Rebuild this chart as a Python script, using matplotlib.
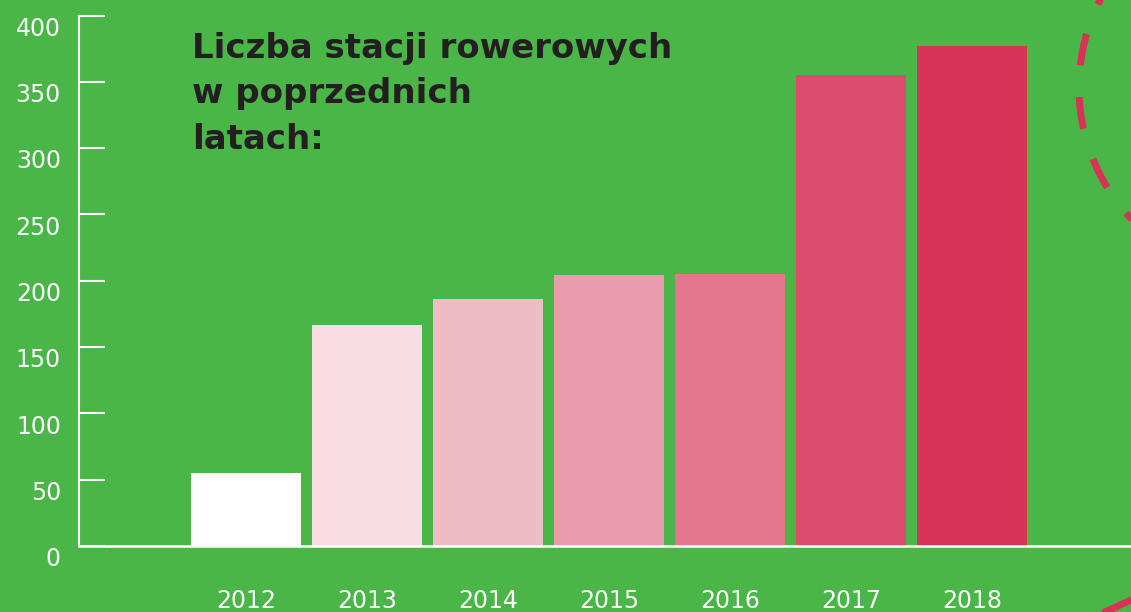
import numpy as np
import matplotlib
matplotlib.use("Agg")
import matplotlib.pyplot as plt
from matplotlib.transforms import ScaledTranslation
from matplotlib.lines import Line2D

# ---- data ----
years = ["2012", "2013", "2014", "2015", "2016", "2017", "2018"]
stations = [55, 167, 186, 204, 205, 355, 377]
bar_colors = ["#ffffff", "#f8dde2", "#efbbc5", "#e99cae", "#e3778e", "#db4b6b", "#d63356"]
yticks = [0, 50, 100, 150, 200, 250, 300, 350, 400]
title_lines = ["Liczba stacji rowerowych", "w poprzednich", "latach:"]

BG = "#4ab648"
W, H = 1131, 612
fig = plt.figure(figsize=(W / 100, H / 100), dpi=100, facecolor=BG)

ax = fig.add_axes([79 / W, (H - 546) / H, (W - 79) / W, 530.5 / H])
ax.set_facecolor(BG)

x = np.arange(len(years))
ax.bar(x, stations, width=110 / 121, color=bar_colors, linewidth=0, zorder=2)

ax.set_xlim((79 - 246) / 121, (W - 246) / 121)
ax.set_ylim(0, 400)

for s in ["top", "right"]:
    ax.spines[s].set_visible(False)
ax.spines["left"].set_color("white")
ax.spines["left"].set_linewidth(1.5)
ax.spines["bottom"].set_color("white")
ax.spines["bottom"].set_linewidth(1.8)
ax.spines["bottom"].set_zorder(3)

tick_font = dict(family="DejaVu Sans", size=17)
ax.set_yticks(yticks)
ax.set_yticklabels([str(v) for v in yticks], color="white", **tick_font)
ax.tick_params(axis="y", direction="in", length=18.7, width=1.5, color="white", pad=13)
off = ScaledTranslation(0, -10.7 / 100, fig.dpi_scale_trans)
for lbl in ax.get_yticklabels():
    lbl.set_transform(lbl.get_transform() + off)

ax.set_xticks(x)
ax.set_xticklabels(years, color="white", **tick_font)
ax.tick_params(axis="x", length=0, pad=31)

# title
baselines = [57.7, 102.5, 149.3]
for line, yb in zip(title_lines, baselines):
    fig.text(192.5 / W, 1 - yb / H, line, family="DejaVu Sans", weight="bold", size=24.5,
             color="#231f20", va="baseline", ha="left")

# decorative dashed circle (right side)
cx, cy, r = 1270.0, 87.5, 191.0
period, dash = 63.7, 32.0
for k in range(-3, 4):
    s0 = 9.5 + period * k
    th = np.linspace(s0, s0 + dash, 30) / r
    px = cx - r * np.cos(th)
    py = cy + r * np.sin(th)
    fig.add_artist(Line2D(px / W, 1 - py / H, transform=fig.transFigure,
                          color="#d63356", lw=5, solid_capstyle="butt"))
fig.add_artist(Line2D([1103 / W, 1133 / W], [1 - 613 / H, 1 - 599 / H],
                      transform=fig.transFigure, color="#d63356", lw=5,
                      solid_capstyle="butt"))

fig.savefig("out.png", dpi=100, facecolor=BG)
